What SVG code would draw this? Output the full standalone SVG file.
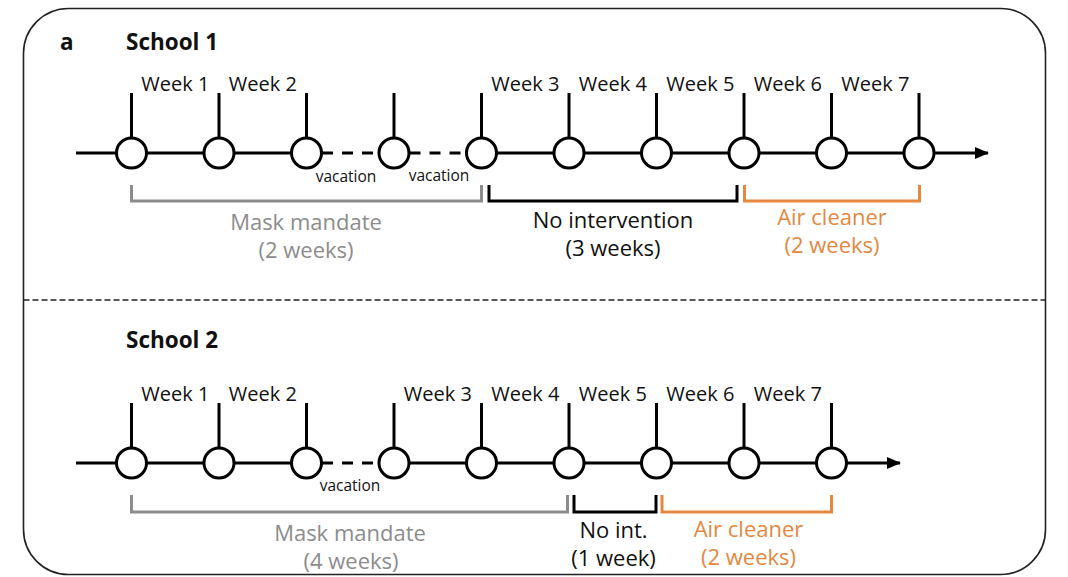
<svg xmlns="http://www.w3.org/2000/svg" width="1068" height="577" viewBox="0 0 1068 577">
<defs>
<style>
.txt{font-family:"Open Sans","Liberation Sans",sans-serif;fill:#111}
.wk{font-size:20px}
.vac{font-size:15.5px}
.big{font-size:22px;text-anchor:middle}
.ttl{font-size:22.5px;font-weight:bold}
.line{stroke:#000;stroke-width:3;fill:none}
.dash{stroke:#000;stroke-width:3;fill:none;stroke-dasharray:11 9}
.tick{stroke:#000;stroke-width:3}
.node{fill:#fff;stroke:#000;stroke-width:3}
.brG{stroke:#8c8c8c;stroke-width:3;fill:none}
.brK{stroke:#000;stroke-width:3;fill:none}
.brO{stroke:#e5873f;stroke-width:3;fill:none}
.gray{fill:#8c8c8c}
.orange{fill:#e5873f}
</style>
<marker id="arr" markerWidth="14" markerHeight="12" refX="13" refY="6" orient="auto" markerUnits="userSpaceOnUse">
<path d="M0,0 L14,6 L0,12 Z" fill="#000"/>
</marker>
</defs>
<rect width="1068" height="577" fill="#fff"/>
<g id="frame">
<rect x="23.5" y="8.5" width="1022" height="566" rx="45" ry="45" fill="none" stroke="#222" stroke-width="1.6"/>
<line x1="23.5" y1="300" x2="1045.5" y2="300" stroke="#222" stroke-width="1.5" stroke-dasharray="6 3"/>
</g>
<g id="titles" class="txt">
<text x="60" y="50" class="ttl">a</text>
<text x="126" y="50" class="ttl">School 1</text>
<text x="126" y="348" class="ttl">School 2</text>
</g>
<g id="connectors">
<line class="line" x1="76" y1="153" x2="306.5" y2="153"/>
<line class="dash" x1="322" y1="153" x2="380" y2="153"/>
<line class="dash" x1="409.5" y1="153" x2="467" y2="153"/>
<line class="line" x1="481.5" y1="153" x2="988" y2="153" marker-end="url(#arr)"/>
<line class="line" x1="76" y1="463" x2="306.5" y2="463"/>
<line class="dash" x1="322" y1="463" x2="380" y2="463"/>
<line class="line" x1="394" y1="463" x2="900" y2="463" marker-end="url(#arr)"/>
</g>
<g id="school1-nodes">
<g id="s1n1"><line class="tick" x1="131.5" y1="93" x2="131.5" y2="138"/><circle class="node" cx="131.5" cy="153" r="15"/></g>
<g id="s1n2"><line class="tick" x1="219" y1="93" x2="219" y2="138"/><circle class="node" cx="219" cy="153" r="15"/></g>
<g id="s1n3"><line class="tick" x1="306.5" y1="93" x2="306.5" y2="138"/><circle class="node" cx="306.5" cy="153" r="15"/></g>
<g id="s1n4"><line class="tick" x1="394" y1="93" x2="394" y2="138"/><circle class="node" cx="394" cy="153" r="15"/></g>
<g id="s1n5"><line class="tick" x1="481.5" y1="93" x2="481.5" y2="138"/><circle class="node" cx="481.5" cy="153" r="15"/></g>
<g id="s1n6"><line class="tick" x1="569" y1="93" x2="569" y2="138"/><circle class="node" cx="569" cy="153" r="15"/></g>
<g id="s1n7"><line class="tick" x1="656.5" y1="93" x2="656.5" y2="138"/><circle class="node" cx="656.5" cy="153" r="15"/></g>
<g id="s1n8"><line class="tick" x1="744" y1="93" x2="744" y2="138"/><circle class="node" cx="744" cy="153" r="15"/></g>
<g id="s1n9"><line class="tick" x1="831.5" y1="93" x2="831.5" y2="138"/><circle class="node" cx="831.5" cy="153" r="15"/></g>
<g id="s1n10"><line class="tick" x1="919" y1="93" x2="919" y2="138"/><circle class="node" cx="919" cy="153" r="15"/></g>
</g>
<g id="school1-labels" class="txt">
<text class="wk" x="175.3" y="91" text-anchor="middle">Week 1</text>
<text class="wk" x="262.8" y="91" text-anchor="middle">Week 2</text>
<text class="wk" x="525.3" y="91" text-anchor="middle">Week 3</text>
<text class="wk" x="612.8" y="91" text-anchor="middle">Week 4</text>
<text class="wk" x="700.3" y="91" text-anchor="middle">Week 5</text>
<text class="wk" x="787.8" y="91" text-anchor="middle">Week 6</text>
<text class="wk" x="875.3" y="91" text-anchor="middle">Week 7</text>
<text class="vac" x="346" y="182" text-anchor="middle">vacation</text>
<text class="vac" x="439" y="181" text-anchor="middle">vacation</text>
</g>
<g id="school1-brackets">
<g id="s1-mask"><path class="brG" d="M131.5,185 V201 H481.5 V185"/>
<text class="txt big gray" x="306" y="230">Mask mandate</text>
<text class="txt big gray" x="306" y="258">(2 weeks)</text></g>
<g id="s1-noint"><path class="brK" d="M489,185 V201 H737 V185"/>
<text class="txt big" x="613" y="228">No intervention</text>
<text class="txt big" x="613" y="256">(3 weeks)</text></g>
<g id="s1-air"><path class="brO" d="M744.5,185 V201 H919.5 V185"/>
<text class="txt big orange" x="832" y="225">Air cleaner</text>
<text class="txt big orange" x="832" y="253">(2 weeks)</text></g>
</g>
<g id="school2-nodes">
<g id="s2n1"><line class="tick" x1="131.5" y1="403" x2="131.5" y2="448"/><circle class="node" cx="131.5" cy="463" r="15"/></g>
<g id="s2n2"><line class="tick" x1="219" y1="403" x2="219" y2="448"/><circle class="node" cx="219" cy="463" r="15"/></g>
<g id="s2n3"><line class="tick" x1="306.5" y1="403" x2="306.5" y2="448"/><circle class="node" cx="306.5" cy="463" r="15"/></g>
<g id="s2n4"><line class="tick" x1="394" y1="403" x2="394" y2="448"/><circle class="node" cx="394" cy="463" r="15"/></g>
<g id="s2n5"><line class="tick" x1="481.5" y1="403" x2="481.5" y2="448"/><circle class="node" cx="481.5" cy="463" r="15"/></g>
<g id="s2n6"><line class="tick" x1="569" y1="403" x2="569" y2="448"/><circle class="node" cx="569" cy="463" r="15"/></g>
<g id="s2n7"><line class="tick" x1="656.5" y1="403" x2="656.5" y2="448"/><circle class="node" cx="656.5" cy="463" r="15"/></g>
<g id="s2n8"><line class="tick" x1="744" y1="403" x2="744" y2="448"/><circle class="node" cx="744" cy="463" r="15"/></g>
<g id="s2n9"><line class="tick" x1="831.5" y1="403" x2="831.5" y2="448"/><circle class="node" cx="831.5" cy="463" r="15"/></g>
</g>
<g id="school2-labels" class="txt">
<text class="wk" x="175.3" y="401" text-anchor="middle">Week 1</text>
<text class="wk" x="262.8" y="401" text-anchor="middle">Week 2</text>
<text class="wk" x="437.8" y="401" text-anchor="middle">Week 3</text>
<text class="wk" x="525.3" y="401" text-anchor="middle">Week 4</text>
<text class="wk" x="612.8" y="401" text-anchor="middle">Week 5</text>
<text class="wk" x="700.3" y="401" text-anchor="middle">Week 6</text>
<text class="wk" x="787.8" y="401" text-anchor="middle">Week 7</text>
<text class="vac" x="350" y="491" text-anchor="middle">vacation</text>
</g>
<g id="school2-brackets">
<g id="s2-mask"><path class="brG" d="M131.5,495 V512 H567.5 V495"/>
<text class="txt big gray" x="350" y="541">Mask mandate</text>
<text class="txt big gray" x="351" y="569">(4 weeks)</text></g>
<g id="s2-noint"><path class="brK" d="M574,495 V512 H656 V495"/>
<text class="txt big" x="613.5" y="538">No int.</text>
<text class="txt big" x="613.5" y="566">(1 week)</text></g>
<g id="s2-air"><path class="brO" d="M662,495 V512 H831.5 V495"/>
<text class="txt big orange" x="748.5" y="537">Air cleaner</text>
<text class="txt big orange" x="748.5" y="565">(2 weeks)</text></g>
</g>
</svg>
